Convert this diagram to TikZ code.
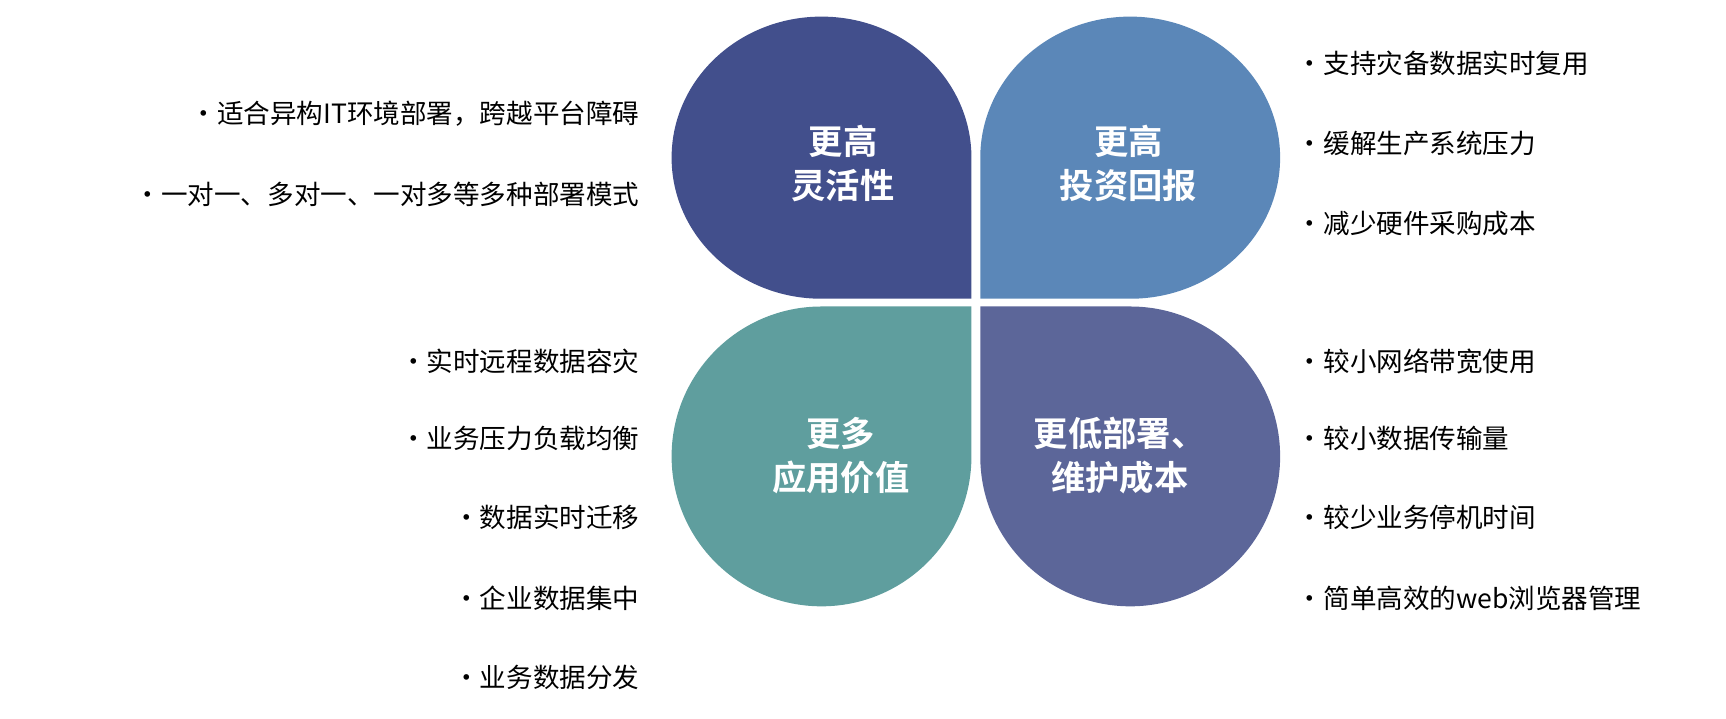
\documentclass[tikz,border=0pt]{standalone}
\usepackage{fontspec}
\newfontfamily\cjk{Noto Sans CJK SC}
\newfontfamily\cjkb{Noto Sans CJK SC Bold}
\usetikzlibrary{positioning}
\definecolor{petalA}{HTML}{424F8C}
\definecolor{petalB}{HTML}{5B87B8}
\definecolor{petalC}{HTML}{5F9E9E}
\definecolor{petalD}{HTML}{5C6699}
\tikzset{
  title/.style={text=white,align=center,font=\cjkb\fontsize{31}{40}\selectfont,inner sep=0pt},
  itemL/.style={anchor=east,inner sep=0pt,font=\cjk\fontsize{24}{28}\selectfont},
  itemR/.style={anchor=west,inner sep=0pt,font=\cjk\fontsize{24}{28}\selectfont}
}
\begin{document}
\begin{tikzpicture}[x=1pt,y=1pt,yscale=-1,xscale=1]
\useasboundingbox (0,0) rectangle (1560,649);

%Shape: Petal top left
\fill [petalA] (878,270) -- (878,142.5) arc [start angle=0,end angle=-270,x radius=135.5,y radius=127.5] -- cycle ;
%Shape: Petal top right
\fill [petalB] (886,270) -- (886,142.5) arc [start angle=180,end angle=450,x radius=135.5,y radius=127.5] -- cycle ;
%Shape: Petal bottom left
\fill [petalC] (878,277) -- (878,412.5) arc [start angle=0,end angle=270,x radius=135.5,y radius=135.5] -- cycle ;
%Shape: Petal bottom right
\fill [petalD] (886,277) -- (886,412.5) arc [start angle=180,end angle=-90,x radius=135.5,y radius=135.5] -- cycle ;

% Text Node
\node [title] (tA) at (762,148) {更高\\灵活性};
\node [title] (tB) at (1020,148) {更高\\投资回报};
\node [title] (tC) at (760,412) {更多\\应用价值};
\node [title] (tD) at (1012,412) {更低部署、\\维护成本};

% Text Node
\node [itemL] (a1) at (578,103) {•适合异构IT环境部署，跨越平台障碍};
\node [itemL] (a2) at (578,176) {•一对一、多对一、一对多等多种部署模式};
% Text Node
\node [itemR] (b1) at (1172,57) {•支持灾备数据实时复用};
\node [itemR] (b2) at (1172,130) {•缓解生产系统压力};
\node [itemR] (b3) at (1172,202) {•减少硬件采购成本};
% Text Node
\node [itemL] (c1) at (578,327) {•实时远程数据容灾};
\node [itemL] (c2) at (578,396) {•业务压力负载均衡};
\node [itemL] (c3) at (578,468) {•数据实时迁移};
\node [itemL] (c4) at (578,541) {•企业数据集中};
\node [itemL] (c5) at (578,612) {•业务数据分发};
% Text Node
\node [itemR] (d1) at (1172,327) {•较小网络带宽使用};
\node [itemR] (d2) at (1172,396) {•较小数据传输量};
\node [itemR] (d3) at (1172,468) {•较少业务停机时间};
\node [itemR] (d4) at (1172,541) {•简单高效的web浏览器管理};

\end{tikzpicture}
\end{document}
